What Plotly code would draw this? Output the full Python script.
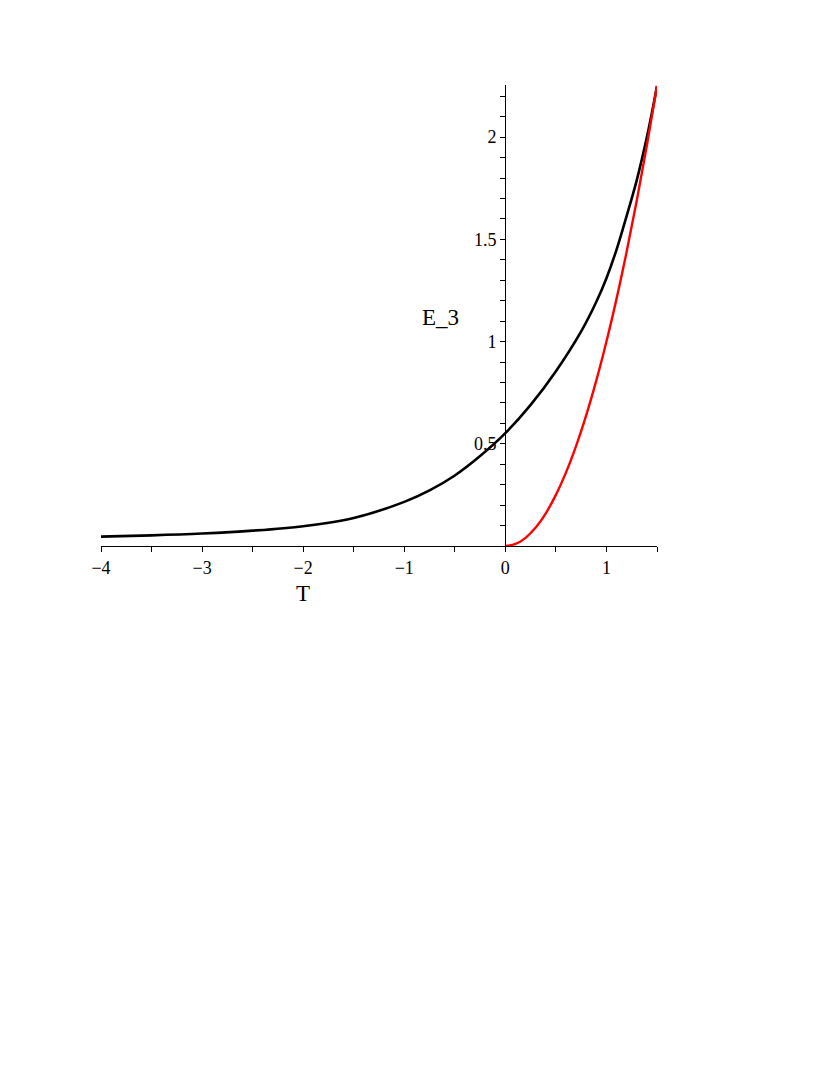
import plotly.graph_objects as go

# values

t_black = [-4, -3.5, -3, -2.5, -2, -1.5, -1, -0.75, -0.5, -0.25, 0, 0.25, 0.5, 0.75, 0.9, 1.0, 1.1, 1.2, 1.3, 1.4, 1.45, 1.5]
e_black = [0.046, 0.052, 0.061, 0.075, 0.097, 0.137, 0.216, 0.272, 0.345, 0.44, 0.552, 0.69, 0.855, 1.05, 1.195, 1.31, 1.45, 1.615, 1.79, 2.0, 2.12, 2.25]

t_red = [0, 0.1, 0.2, 0.3, 0.4, 0.5, 0.6, 0.7, 0.8, 0.9, 1.0, 1.1, 1.2, 1.3, 1.4, 1.5]
e_red = [0, 0.01, 0.04, 0.09, 0.16, 0.25, 0.36, 0.49, 0.64, 0.81, 1.0, 1.21, 1.44, 1.69, 1.96, 2.25]

x_ticks = [-4, -3, -2, -1, 0, 1]
y_ticks = [0.5, 1, 1.5, 2]

font = "Liberation Serif"

fig = go.Figure()

fig.add_trace(go.Scatter(
    x=t_black, y=e_black, mode='lines', line_shape='spline',
    line=dict(color='black', width=2.6),
    showlegend=False
))

fig.add_trace(go.Scatter(
    x=t_red, y=e_red, mode='lines', line_shape='spline',
    line=dict(color='#ff0000', width=2.4),
    showlegend=False
))

# body margin of the page is 8px, so margins are 8px smaller on left/top
fig.update_layout(
    width=830, height=1075,
    margin=dict(l=93, r=181, t=77, b=537),
    paper_bgcolor='white', plot_bgcolor='white',
    font=dict(family=font, size=18, color='black'),
    xaxis=dict(
        range=[-4, 1.5], showgrid=False, zeroline=False,
        showline=True, linecolor='black', linewidth=1,
        tickvals=x_ticks, ticks='outside', ticklen=5, tickcolor='black',
        minor=dict(tickmode='linear', tick0=0, dtick=0.5, ticks='outside', ticklen=5, tickcolor='black'),
    ),
    yaxis=dict(
        range=[0, 2.255], showgrid=False, zeroline=False,
        anchor='free', position=404 / 556,
        showline=True, linecolor='black', linewidth=1,
        tickvals=y_ticks, ticks='outside', ticklen=5, tickcolor='black',
        minor=dict(tickmode='linear', tick0=0, dtick=0.1, ticks='outside', ticklen=5, tickcolor='black'),
    ),
)

# axis titles placed where the reference has them
fig.add_annotation(text="T", x=202 / 556, y=-0.103, xref='paper', yref='paper',
                   xanchor='center', yanchor='middle', showarrow=False,
                   font=dict(family=font, size=23))
fig.add_annotation(text="E_3", x=-0.64, y=1.12, xref='x', yref='y',
                   xanchor='center', yanchor='middle', showarrow=False,
                   font=dict(family=font, size=23))

fig.write_html("out.html")
